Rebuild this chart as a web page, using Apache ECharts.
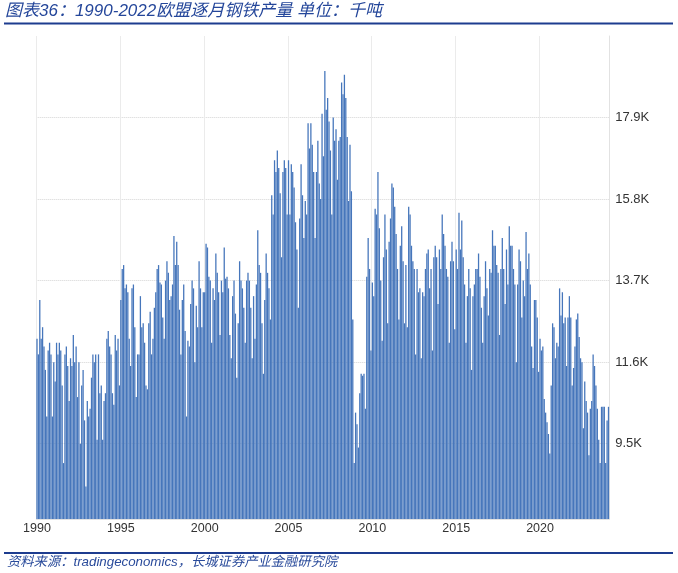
<!DOCTYPE html>
<html><head><meta charset="utf-8">
<script src="https://cdn.jsdelivr.net/npm/echarts@6/dist/echarts.min.js"></script>
<style>html,body{margin:0;padding:0;background:#fff}#c{width:678px;height:573px}</style>
</head><body><div id="c"></div>
<script>
// Monthly EU steel production, thousand tonnes (in K), Jan 1990 .. Feb 2024
const v1990 = [12.2, 11.8, 13.2, 12.2, 12.5, 12.0, 11.4, 10.2, 11.9, 12.1, 11.8, 10.2];
const v1991 = [11.6, 11.1, 12.1, 11.8, 12.1, 11.9, 11.0, 9.0, 11.8, 12.0, 11.5, 10.6];
const v1992 = [11.7, 11.5, 12.3, 11.6, 12.0, 10.7, 11.6, 9.5, 11.0, 11.4, 10.1, 8.4];
const v1993 = [10.6, 10.2, 10.4, 11.2, 11.8, 11.6, 11.8, 9.6, 11.8, 10.8, 11.0, 9.6];
const v1994 = [10.6, 10.8, 12.2, 12.4, 12.0, 11.8, 10.8, 10.5, 12.3, 11.9, 12.2, 11.0];
const v1995 = [13.2, 14.0, 14.1, 13.5, 13.6, 13.4, 12.2, 11.5, 13.5, 13.6, 12.5, 10.7];
const v1996 = [11.8, 11.8, 13.3, 12.5, 12.6, 12.1, 11.0, 10.9, 12.6, 12.9, 11.8, 12.2];
const v1997 = [13.0, 13.4, 14.0, 14.1, 13.65, 13.6, 12.75, 12.2, 13.7, 14.2, 13.9, 13.2];
const v1998 = [13.3, 13.6, 14.85, 14.1, 14.7, 14.1, 12.95, 11.8, 13.2, 13.6, 12.4, 10.2];
const v1999 = [12.15, 12.0, 13.1, 13.7, 13.5, 11.6, 13.05, 12.5, 14.2, 13.5, 12.5, 13.4];
const v2000 = [13.4, 14.65, 14.55, 13.8, 13.7, 12.1, 13.5, 13.2, 14.4, 13.9, 13.4, 12.3];
const v2001 = [13.7, 13.4, 14.55, 13.75, 13.8, 13.5, 12.3, 11.7, 13.3, 13.7, 12.85, 11.2];
const v2002 = [12.6, 14.2, 13.7, 13.5, 13.0, 12.1, 13.7, 13.9, 13.7, 13.0, 11.7, 13.3];
const v2003 = [12.2, 13.6, 15.0, 14.1, 13.9, 12.6, 11.3, 13.2, 14.4, 13.9, 13.5, 12.7];
const v2004 = [15.9, 15.4, 16.8, 16.5, 17.05, 16.6, 15.95, 14.3, 16.5, 16.8, 16.6, 15.4];
const v2005 = [16.8, 15.4, 16.7, 16.5, 16.1, 15.2, 14.5, 13.0, 15.3, 16.7, 15.9, 14.8];
const v2006 = [15.75, 15.4, 17.75, 17.1, 17.75, 17.2, 16.5, 14.8, 16.5, 17.3, 16.2, 15.8];
const v2007 = [18.0, 16.9, 19.1, 18.1, 18.4, 17.8, 17.05, 15.4, 17.9, 17.3, 17.6, 16.3];
const v2008 = [17.3, 17.4, 18.8, 18.5, 19.0, 18.4, 17.4, 15.75, 17.2, 16.0, 12.7, 9.0];
const v2009 = [10.3, 10.0, 9.4, 10.8, 11.3, 11.25, 11.3, 10.4, 13.8, 14.8, 14.0, 11.9];
const v2010 = [13.65, 13.3, 15.55, 15.4, 16.5, 15.05, 13.7, 12.15, 14.3, 15.4, 14.5, 12.6];
const v2011 = [14.7, 15.3, 16.2, 16.1, 15.6, 14.9, 14.0, 12.7, 14.6, 15.1, 14.2, 12.6];
const v2012 = [14.1, 12.5, 15.6, 15.4, 14.6, 14.2, 14.0, 11.8, 14.0, 13.4, 13.5, 11.7];
const v2013 = [13.4, 13.3, 14.0, 14.4, 14.5, 13.5, 14.0, 11.9, 14.3, 14.6, 14.3, 13.1];
const v2014 = [14.5, 14.0, 15.4, 14.9, 14.6, 14.0, 13.8, 12.1, 14.2, 14.7, 14.2, 12.45];
const v2015 = [14.5, 14.0, 15.45, 14.5, 15.25, 14.3, 13.6, 12.1, 13.3, 14.0, 13.5, 11.4];
const v2016 = [13.3, 13.6, 14.0, 14.0, 14.4, 13.8, 13.0, 12.1, 13.3, 14.2, 13.5, 12.8];
const v2017 = [14.0, 13.9, 15.0, 14.6, 14.6, 14.1, 13.9, 12.3, 14.0, 14.8, 14.0, 13.1];
const v2018 = [14.5, 13.6, 15.1, 14.6, 14.6, 14.0, 13.6, 11.6, 13.6, 14.5, 14.2, 12.75];
const v2019 = [13.7, 13.3, 14.95, 14.0, 14.4, 13.6, 12.0, 11.45, 13.2, 13.2, 12.75, 11.35];
const v2020 = [12.2, 11.9, 12.0, 10.65, 10.3, 10.05, 9.75, 9.25, 11.0, 12.6, 12.5, 11.7];
const v2021 = [12.1, 12.0, 13.5, 12.8, 13.4, 12.6, 12.75, 11.5, 12.75, 13.3, 12.75, 11.0];
const v2022 = [11.45, 12.0, 12.7, 12.85, 12.25, 11.7, 11.6, 9.9, 11.1, 10.6, 10.3, 9.2];
const v2023 = [10.4, 10.6, 11.8, 11.5, 11.0, 10.4, 9.6, 9.0, 10.45, 10.45, 10.45, 9.0];
const v2024 = [10.1, 10.45];

const firstYear = 1990;
const xTickLabels = ['1990', '1995', '2000', '2005', '2010', '2015', '2020'];
const yTicks = [9.5, 11.6, 13.7, 15.8, 17.9];
const titleText = '图表36：1990-2022欧盟逐月钢铁产量 单位：千吨';
const sourceText = '资料来源：tradingeconomics，长城证券产业金融研究院';

const yearArrays = [v1990, v1991, v1992, v1993, v1994, v1995, v1996, v1997, v1998, v1999,
  v2000, v2001, v2002, v2003, v2004, v2005, v2006, v2007, v2008, v2009,
  v2010, v2011, v2012, v2013, v2014, v2015, v2016, v2017, v2018, v2019,
  v2020, v2021, v2022, v2023, v2024];
const values = [];
const categories = [];
yearArrays.forEach((arr, i) => arr.forEach((v, m) => {
  values.push(v);
  categories.push((firstYear + i) + '-' + String(m + 1).padStart(2, '0'));
}));

const isYearTick = (v) => v.endsWith('-01') && xTickLabels.includes(v.slice(0, 4));

const chart = echarts.init(document.getElementById('c'), null, {renderer: 'canvas'});
chart.setOption({
  animation: false,
  grid: {left: 36.3, right: 68.8, top: 36, bottom: 54},
  xAxis: {
    type: 'category', data: categories, boundaryGap: true,
    axisLine: {show: true, lineStyle: {color: '#e2e2e2', width: 1}},
    axisTick: {show: false},
    axisLabel: {
      interval: (i, v) => isYearTick(v),
      formatter: (v) => v.slice(0, 4),
      color: '#333', fontSize: 12.5, margin: 3, fontFamily: 'Liberation Sans'
    },
    splitLine: {show: true, interval: (i, v) => isYearTick(v), lineStyle: {color: '#ebebeb', width: 1}}
  },
  yAxis: {
    type: 'value', position: 'right', min: 7.56, max: 20.0,
    axisLine: {show: true, lineStyle: {color: '#e2e2e2', width: 1}},
    axisTick: {show: false, customValues: yTicks},
    axisLabel: {
      customValues: yTicks,
      formatter: (v) => v.toFixed(1) + 'K',
      color: '#333', fontSize: 13, margin: 6, fontFamily: 'Liberation Sans'
    },
    splitLine: {show: true, lineStyle: {type: 'dotted', color: '#d4d4d4', width: 1}}
  },
  series: [{
    type: 'bar', data: values, barCategoryGap: '8%',
    itemStyle: {color: '#4676bb'}
  }],
  graphic: [
    {type: 'text', left: 5, top: 3, style: {text: titleText, fontSize: 17, fontStyle: 'italic',
      fontFamily: '"Liberation Sans", "Noto Sans CJK SC", sans-serif', fill: '#24469a'}},
    {type: 'line', shape: {x1: 4, y1: 23.5, x2: 673, y2: 23.5}, style: {stroke: '#1d3c8f', lineWidth: 2}},
    {type: 'line', shape: {x1: 4, y1: 553, x2: 673, y2: 553}, style: {stroke: '#1d3c8f', lineWidth: 2}},
    {type: 'text', left: 7, top: 556, style: {text: sourceText, fontSize: 13.3, fontStyle: 'italic',
      fontFamily: '"Liberation Sans", "Noto Sans CJK SC", sans-serif', fill: '#2a4b9b'}}
  ]
});
</script>
</body></html>
